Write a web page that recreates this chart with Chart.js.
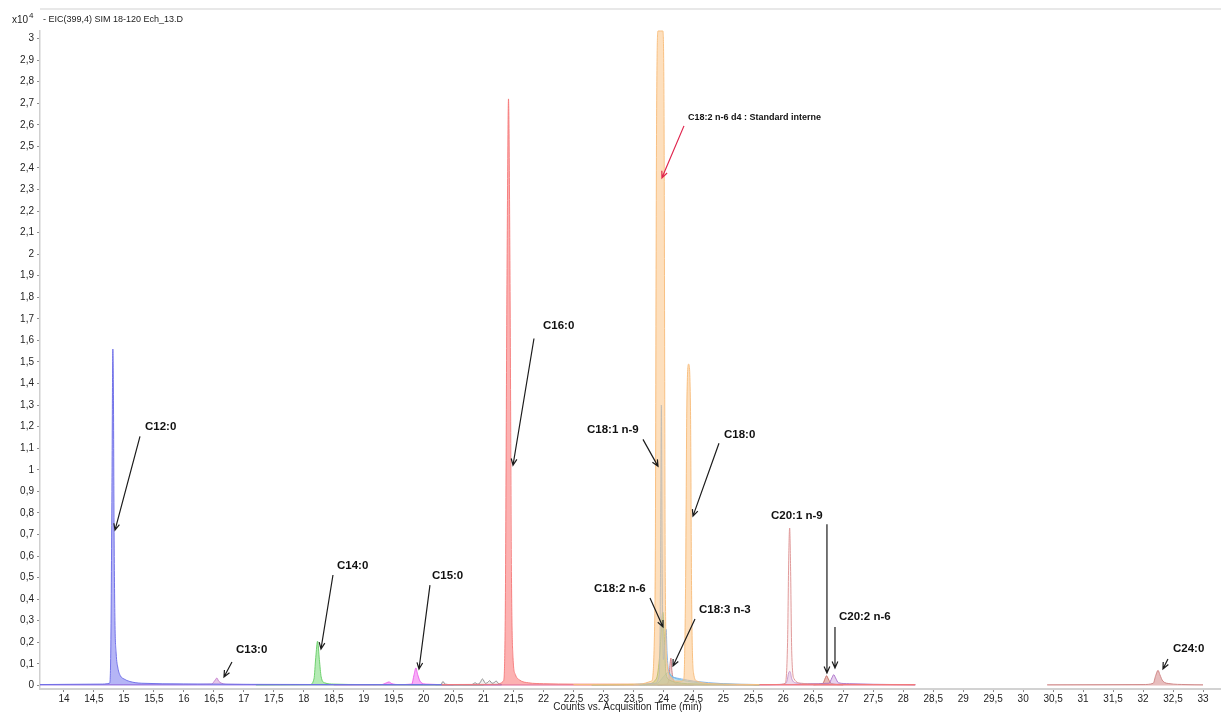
<!DOCTYPE html>
<html>
<head>
<meta charset="utf-8">
<script src="https://cdn.jsdelivr.net/npm/chart.js@4/dist/chart.umd.min.js"></script>
<style>
  html, body { margin: 0; padding: 0; background: #ffffff; }
  #wrap { width: 1221px; height: 714px; position: relative; }
</style>
</head>
<body>
<div id="wrap"><canvas id="chrom" width="1221" height="714"></canvas></div>
<script>
// Retention times (min) and abundances (x10^4 counts) for each extracted ion trace.
const c12Time   = [13.6, 14.6, 14.76, 14.78, 14.8, 14.815, 14.825, 14.835, 14.85, 14.87, 14.9, 14.94, 15.0, 15.1, 15.3, 16.0, 17.0, 18.5, 20.0, 21.3];
const c12Counts = [0.004, 0.006, 0.01, 0.15, 0.9, 1.56, 1.35, 0.75, 0.3, 0.15, 0.08, 0.045, 0.03, 0.018, 0.01, 0.007, 0.005, 0.004, 0.004, 0.004];

const c13Time   = [13.6, 15.0, 16.0, 16.46, 16.52, 16.55, 16.58, 16.63, 16.75, 17.5, 19.0, 21.0, 23.0, 25.0, 26.0, 27.0, 28.2];
const c13Counts = [0.004, 0.004, 0.004, 0.006, 0.024, 0.034, 0.02, 0.01, 0.005, 0.004, 0.004, 0.003, 0.003, 0.004, 0.004, 0.005, 0.004];

const c14Time   = [17.2, 18.1, 18.17, 18.2, 18.23, 18.26, 18.29, 18.35, 18.5, 19.0, 20.0, 21.0];
const c14Counts = [0.003, 0.004, 0.03, 0.13, 0.205, 0.12, 0.04, 0.012, 0.006, 0.004, 0.003, 0.003];

const c15Time   = [18.5, 19.3, 19.38, 19.42, 19.47, 19.6, 19.8, 19.84, 19.87, 19.9, 19.95, 20.05, 20.5];
const c15Counts = [0.003, 0.004, 0.012, 0.016, 0.008, 0.004, 0.006, 0.05, 0.081, 0.05, 0.015, 0.006, 0.003];

const minorTime   = [20.2, 20.29, 20.32, 20.36, 20.45, 20.8, 20.86, 20.9, 20.94, 20.98, 21.03, 21.07, 21.1, 21.14, 21.17, 21.21, 21.25, 21.3];
const minorCounts = [0.003, 0.004, 0.018, 0.006, 0.004, 0.004, 0.012, 0.006, 0.012, 0.03, 0.01, 0.014, 0.022, 0.01, 0.012, 0.02, 0.008, 0.004];

const c16Time   = [20.3, 21.2, 21.33, 21.36, 21.39, 21.415, 21.44, 21.465, 21.49, 21.53, 21.6, 21.75, 22.0, 22.5, 23.5, 24.5, 25.5, 26.5, 27.5, 28.2];
const c16Counts = [0.004, 0.005, 0.02, 0.3, 1.9, 2.72, 1.9, 0.5, 0.13, 0.05, 0.025, 0.012, 0.008, 0.006, 0.005, 0.005, 0.004, 0.004, 0.004, 0.004];

// Internal standard (C18:2 n-6 d4) and C18:0 share the same trace.
const c18Time   = [22.5, 23.6, 23.8, 23.86, 23.885, 23.91, 23.95, 23.99, 24.01, 24.03, 24.06, 24.12, 24.2, 24.3, 24.34, 24.37, 24.39, 24.42, 24.45, 24.47, 24.5, 24.56, 24.65, 24.8, 25.2, 25.6];
const c18Counts = [0.004, 0.006, 0.02, 0.4, 2.6, 3.035, 3.035, 3.035, 2.6, 0.5, 0.1, 0.04, 0.02, 0.02, 0.03, 0.5, 1.3, 1.49, 1.3, 0.4, 0.06, 0.02, 0.012, 0.008, 0.005, 0.004];

const c181Time   = [23.5, 23.85, 23.93, 23.95, 23.965, 23.98, 24.0, 24.025, 24.045, 24.06, 24.09, 24.15, 24.3, 24.5, 25.0, 25.6];
const c181Counts = [0.004, 0.01, 0.05, 0.5, 1.3, 0.5, 0.12, 0.2, 0.26, 0.15, 0.06, 0.04, 0.03, 0.02, 0.008, 0.004];

const c182Time   = [22.8, 23.7, 23.88, 23.94, 23.97, 23.99, 24.01, 24.04, 24.1, 24.2, 24.4, 25.0, 25.6];
const c182Counts = [0.003, 0.005, 0.03, 0.15, 0.3, 0.34, 0.25, 0.06, 0.025, 0.015, 0.008, 0.005, 0.003];

const cyanTime   = [23.6, 23.9, 24.0, 24.08, 24.15, 24.3, 24.5, 24.8, 25.2];
const cyanCounts = [0.003, 0.01, 0.04, 0.06, 0.04, 0.025, 0.015, 0.008, 0.004];

const c183Time   = [23.9, 24.05, 24.09, 24.11, 24.125, 24.14, 24.17, 24.25, 24.5];
const c183Counts = [0.003, 0.006, 0.03, 0.1, 0.127, 0.07, 0.02, 0.006, 0.003];

const c201Time   = [25.0, 25.9, 26.03, 26.07, 26.09, 26.105, 26.12, 26.14, 26.18, 26.3, 26.6, 27.0, 27.5, 28.2];
const c201Counts = [0.003, 0.004, 0.01, 0.2, 0.6, 0.73, 0.55, 0.15, 0.03, 0.01, 0.006, 0.005, 0.004, 0.003];

const c202Time   = [25.5, 26.0, 26.06, 26.09, 26.11, 26.14, 26.2, 26.4, 26.76, 26.81, 26.84, 26.87, 26.92, 27.1, 27.5, 28.2];
const c202Counts = [0.003, 0.005, 0.02, 0.06, 0.065, 0.03, 0.012, 0.008, 0.01, 0.035, 0.05, 0.035, 0.012, 0.008, 0.005, 0.003];

const c20bTime   = [26.5, 26.66, 26.7, 26.72, 26.75, 26.8, 27.0];
const c20bCounts = [0.003, 0.01, 0.035, 0.045, 0.03, 0.008, 0.003];

const c24Time   = [30.4, 32.0, 32.17, 32.21, 32.25, 32.28, 32.33, 32.45, 32.7, 33.0];
const c24Counts = [0.003, 0.004, 0.01, 0.045, 0.07, 0.05, 0.02, 0.008, 0.004, 0.003];

// Axis tick values
const xTickValues = [14, 14.5, 15, 15.5, 16, 16.5, 17, 17.5, 18, 18.5, 19, 19.5, 20, 20.5, 21, 21.5, 22, 22.5, 23, 23.5, 24, 24.5, 25, 25.5, 26, 26.5, 27, 27.5, 28, 28.5, 29, 29.5, 30, 30.5, 31, 31.5, 32, 32.5, 33];
const yTickValues = [0, 0.1, 0.2, 0.3, 0.4, 0.5, 0.6, 0.7, 0.8, 0.9, 1, 1.1, 1.2, 1.3, 1.4, 1.5, 1.6, 1.7, 1.8, 1.9, 2, 2.1, 2.2, 2.3, 2.4, 2.5, 2.6, 2.7, 2.8, 2.9, 3];

// Peak labels: text anchor, arrow tail and arrow head, all in (time, abundance)
const peakLabels = [
  { text: 'C12:0', at: [15.351, 1.197], from: [15.268, 1.155], to: [14.851, 0.720] },
  { text: 'C13:0', at: [16.869, 0.164], from: [16.802, 0.109], to: [16.669, 0.039] },
  { text: 'C14:0', at: [18.554, 0.553], from: [18.487, 0.512], to: [18.287, 0.169] },
  { text: 'C15:0', at: [20.138, 0.507], from: [20.105, 0.465], to: [19.922, 0.076] },
  { text: 'C16:0', at: [21.990, 1.669], from: [21.840, 1.609], to: [21.490, 1.021] },
  { text: 'C18:2 n-6 d4 : Standard interne', small: true, at: [24.409, 2.632], from: [24.342, 2.595], to: [23.975, 2.354], red: true },
  { text: 'C18:1 n-9', at: [22.724, 1.187], from: [23.658, 1.141], to: [23.909, 1.016] },
  { text: 'C18:0', at: [25.009, 1.164], from: [24.926, 1.123], to: [24.492, 0.785] },
  { text: 'C20:1 n-9', at: [25.793, 0.785], from: [26.727, 0.748], to: [26.727, 0.058] },
  { text: 'C20:2 n-6', at: [26.927, 0.317], from: [26.861, 0.271], to: [26.861, 0.081] },
  { text: 'C18:2 n-6', at: [22.841, 0.447], from: [23.775, 0.405], to: [23.992, 0.271] },
  { text: 'C18:3 n-3', at: [24.592, 0.350], from: [24.526, 0.308], to: [24.159, 0.090] },
  { text: 'C24:0', at: [32.499, 0.169], from: [32.415, 0.123], to: [32.332, 0.076] }
];

const FONT = '"Liberation Sans", Arial, Helvetica, sans-serif';

function points(times, counts) {
  return times.map((t, i) => ({ x: t, y: counts[i] }));
}

function trace(label, times, counts, line, fill) {
  return {
    label,
    data: points(times, counts),
    borderColor: line,
    backgroundColor: fill,
    borderWidth: 1,
    fill: 'origin',
    pointRadius: 0,
    cubicInterpolationMode: 'monotone'
  };
}

// The first dataset is painted last (on top).
const datasets = [
  trace('C18:2 n-6 d4 / C18:0', c18Time, c18Counts, 'rgba(248,190,125,0.95)', 'rgba(252,196,135,0.55)'),
  trace('C18:1 n-9', c181Time, c181Counts, 'rgba(120,175,235,0.9)', 'rgba(150,195,240,0.35)'),
  trace('C18:2 n-6', c182Time, c182Counts, 'rgba(110,185,80,0.9)', 'rgba(130,200,100,0.5)'),
  trace('cyan', cyanTime, cyanCounts, 'rgba(90,200,220,0.9)', 'rgba(120,210,230,0.35)'),
  trace('C18:3 n-3', c183Time, c183Counts, 'rgba(200,120,125,0.9)', 'rgba(215,150,150,0.4)'),
  trace('C16:0', c16Time, c16Counts, 'rgba(245,120,120,0.9)', 'rgba(250,125,125,0.6)'),
  trace('C12:0', c12Time, c12Counts, 'rgba(110,110,232,0.95)', 'rgba(120,120,238,0.55)'),
  trace('C14:0', c14Time, c14Counts, 'rgba(100,205,100,0.9)', 'rgba(130,220,130,0.6)'),
  trace('C15:0', c15Time, c15Counts, 'rgba(235,90,235,0.9)', 'rgba(242,120,242,0.6)'),
  trace('minor', minorTime, minorCounts, 'rgba(120,120,120,0.8)', 'rgba(200,200,200,0.25)'),
  trace('C20:1', c201Time, c201Counts, 'rgba(222,150,150,0.95)', 'rgba(250,225,225,0.35)'),
  trace('C20:2', c202Time, c202Counts, 'rgba(170,110,200,0.9)', 'rgba(185,130,210,0.35)'),
  trace('C20 b', c20bTime, c20bCounts, 'rgba(200,110,100,0.9)', 'rgba(210,130,120,0.55)'),
  trace('C24:0', c24Time, c24Counts, 'rgba(205,130,130,0.9)', 'rgba(215,145,145,0.6)'),
  trace('C13:0', c13Time, c13Counts, 'rgba(190,110,200,0.8)', 'rgba(200,130,205,0.45)')
];

function fmtTick(v) {
  return String(Math.round(v * 10) / 10).replace('.', ',');
}

function drawArrow(ctx, x1, y1, x2, y2, color) {
  const ang = Math.atan2(y2 - y1, x2 - x1);
  const head = 7, spread = 0.42;
  ctx.strokeStyle = color;
  ctx.lineWidth = 1.2;
  ctx.beginPath();
  ctx.moveTo(x1, y1);
  ctx.lineTo(x2, y2);
  ctx.moveTo(x2 - head * Math.cos(ang - spread), y2 - head * Math.sin(ang - spread));
  ctx.lineTo(x2, y2);
  ctx.lineTo(x2 - head * Math.cos(ang + spread), y2 - head * Math.sin(ang + spread));
  ctx.stroke();
}

const framePlugin = {
  id: 'frame',
  beforeDatasetsDraw(chart) {
    const { ctx, chartArea: a } = chart;
    ctx.save();
    // top frame line
    ctx.fillStyle = '#e8e8e8';
    ctx.fillRect(a.left, a.top - 1, chart.width - a.left, 2);
    // left axis
    ctx.fillStyle = '#cfcfcf';
    ctx.fillRect(a.left - 1, 30, 1.5, a.bottom - 30);
    // bottom axis
    ctx.fillStyle = '#d2d2d2';
    ctx.fillRect(a.left - 1, a.bottom, chart.width - a.left + 1, 2);
    ctx.restore();
  },
  afterDraw(chart) {
    const { ctx, chartArea: a } = chart;
    ctx.save();
    ctx.fillStyle = '#222';
    ctx.textBaseline = 'middle';
    ctx.textAlign = 'left';
    ctx.font = '10px ' + FONT;
    ctx.fillText('x10', 12, 20);
    ctx.font = '8px ' + FONT;
    ctx.fillText('4', 29, 16);
    ctx.font = '9px ' + FONT;
    ctx.fillText('- EIC(399,4) SIM 18-120 Ech_13.D', a.left + 3, 20);
    ctx.restore();
  }
};

const labelPlugin = {
  id: 'peakLabels',
  afterDatasetsDraw(chart) {
    const { ctx } = chart;
    const sx = chart.scales.x, sy = chart.scales.y;
    ctx.save();
    for (const p of peakLabels) {
      ctx.font = 'bold ' + (p.small ? 9 : 11.5) + 'px ' + FONT;
      ctx.fillStyle = '#111';
      ctx.textBaseline = 'middle';
      ctx.textAlign = 'left';
      ctx.fillText(p.text, sx.getPixelForValue(p.at[0]), sy.getPixelForValue(p.at[1]));
      drawArrow(ctx,
        sx.getPixelForValue(p.from[0]), sy.getPixelForValue(p.from[1]),
        sx.getPixelForValue(p.to[0]), sy.getPixelForValue(p.to[1]),
        p.red ? '#e0264e' : '#1c1c1c');
    }
    ctx.restore();
  }
};

new Chart(document.getElementById('chrom').getContext('2d'), {
  type: 'line',
  data: { datasets },
  plugins: [framePlugin, labelPlugin],
  options: {
    responsive: false,
    animation: false,
    events: [],
    layout: { padding: { top: 8, right: 6, left: 0, bottom: 0 } },
    plugins: { legend: { display: false }, tooltip: { enabled: false } },
    scales: {
      x: {
        type: 'linear',
        min: 13.6,
        max: 33.2,
        afterBuildTicks: s => { s.ticks = xTickValues.map(v => ({ value: v })); },
        afterFit: s => { s.height = 26; },
        border: { display: false },
        grid: { drawOnChartArea: false, drawTicks: true, tickLength: 4, color: '#8c8c8c', lineWidth: 1 },
        ticks: {
          autoSkip: false, maxRotation: 0, minRotation: 0, padding: 1,
          color: '#222', font: { size: 10, family: FONT },
          callback: v => fmtTick(v)
        },
        title: {
          display: true, text: 'Counts vs. Acquisition Time (min)',
          color: '#222', font: { size: 10, family: FONT }, padding: { top: 0, bottom: 1 }
        }
      },
      y: {
        type: 'linear',
        min: -0.012,
        max: 3.137,
        afterBuildTicks: s => { s.ticks = yTickValues.map(v => ({ value: v })); },
        afterFit: s => { s.width = 40; },
        border: { display: false },
        grid: { drawOnChartArea: false, drawTicks: true, tickLength: 3, color: '#8c8c8c', lineWidth: 1 },
        ticks: {
          autoSkip: false, padding: 3,
          color: '#222', font: { size: 10, family: FONT },
          callback: v => fmtTick(v)
        }
      }
    }
  }
});
</script>
</body>
</html>
